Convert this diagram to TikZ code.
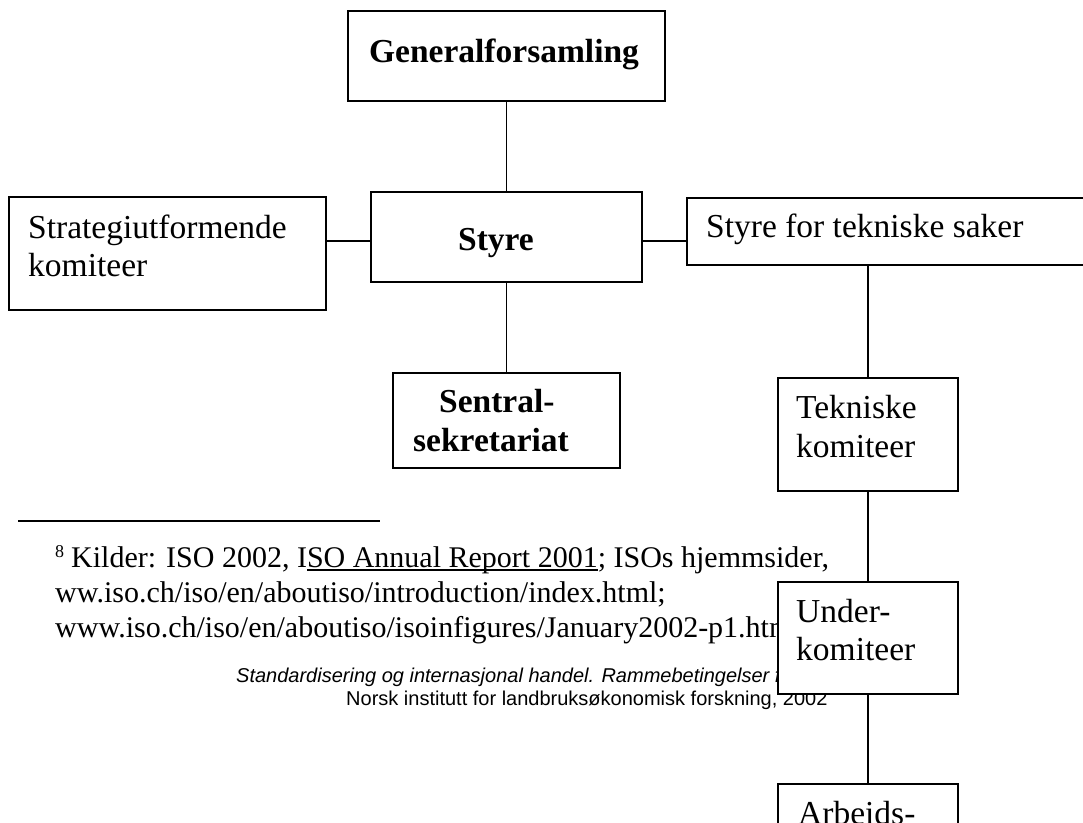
\documentclass[tikz,border=0pt]{standalone}
\usepackage{fontspec}
\setmainfont{Liberation Serif}
\newfontfamily\footerfont{Liberation Sans}
% underline drawn close below the baseline
\newcommand\tightuline[1]{\setbox0\hbox{#1}\rlap{\raisebox{-3.5pt}{\rule{\wd0}{1.6pt}}}\box0}
\begin{document}
\begin{tikzpicture}[x=1pt,y=-1pt,
  orgbox/.style={draw=black, line width=1.9pt, fill=white, inner sep=0pt, anchor=north west},
  link/.style={draw=black, line width=1.7pt},
  boxtext/.style={inner sep=0pt, anchor=base west, font=\fontsize{33.5}{39}\selectfont},
  boldtext/.style={inner sep=0pt, anchor=base, font=\fontsize{33.5}{39}\selectfont\bfseries},
  fnote/.style={inner sep=0pt, anchor=base west, font=\fontsize{30}{35}\selectfont},
  fnmark/.style={inner sep=0pt, anchor=base west, font=\fontsize{18}{20}\selectfont},
  footer/.style={inner sep=0pt, anchor=base west, font=\footerfont\fontsize{20}{23}\selectfont}]
\useasboundingbox (0,0) rectangle (1083,822);
\clip (0,0) rectangle (1083,822);

% footnote block
\coordinate (rulea) at (18,521);
\coordinate (ruleb) at (380,521);
\draw[line width=2.5pt] (rulea) -- (ruleb);
\node[fnmark] (fn8) at (55,557) {8};
\node[fnote] (fn1) at (71,567) {Kilder: ISO 2002, I\tightuline{SO Annual Report 2001}; ISOs hjemmsider,};
\node[fnote] (fn2) at (55,602) {ww.iso.ch/iso/en/aboutiso/introduction/index.html;};
\node[fnote] (fn3) at (55,637) {www.iso.ch/iso/en/aboutiso/isoinfigures/January2002-p1.htm};

% page footer
\node[footer] (ft1) at (236,682) {\itshape Standardisering og internasjonal handel. Rammebetingelser f};
\node[footer] (ft2) at (346,705) {Norsk institutt for landbruksøkonomisk forskning, 2002};

% boxes
\node[orgbox, minimum width=317pt, minimum height=90pt] (ga) at (347,10) {};
\node[orgbox, minimum width=271pt, minimum height=90pt] (styre) at (370,191) {};
\node[orgbox, minimum width=317pt, minimum height=113pt] (strat) at (8,196) {};
\node[orgbox, minimum width=420pt, minimum height=67pt] (stb) at (686,197) {};
\node[orgbox, minimum width=227pt, minimum height=95pt] (sek) at (392,372) {};
\node[orgbox, minimum width=180pt, minimum height=113pt] (tk) at (777,377) {};
\node[orgbox, minimum width=180pt, minimum height=112pt] (uk) at (777,581) {};
\node[orgbox, minimum width=180pt, minimum height=120pt] (ag) at (777,783) {};

% connectors
\coordinate (lvl) at (0,241);
\draw[link] (ga.south) -- (styre.north);
\draw[link] (styre.south) -- (sek.north);
\draw[link] (strat.east |- lvl) -- (styre.west |- lvl);
\draw[link] (styre.east |- lvl) -- (stb.west |- lvl);
\draw[link] (tk.north) -- (tk.north |- stb.south);
\draw[link] (tk.south) -- (uk.north);
\draw[link] (uk.south) -- (ag.north);

% labels
\node[boldtext] (gat) at (504,62) {Generalforsamling};
\node[boldtext] (styret) at (496,250) {Styre};
\node[boxtext] (strat1) at (28,238) {Strategiutformende};
\node[boxtext] (strat2) at (28,276) {komiteer};
\node[boxtext] (stbt) at (706,237) {Styre for tekniske saker};
\node[boxtext, font=\fontsize{33.5}{39}\selectfont\bfseries] (sek1) at (439,412) {Sentral-};
\node[boxtext, font=\fontsize{33.5}{39}\selectfont\bfseries] (sek2) at (413,451) {sekretariat};
\node[boxtext] (tk1) at (796,418) {Tekniske};
\node[boxtext] (tk2) at (796,457) {komiteer};
\node[boxtext] (uk1) at (796,622) {Under-};
\node[boxtext] (uk2) at (796,660) {komiteer};
\node[boxtext] (ag1) at (798,824) {Arbeids-};
\end{tikzpicture}
\end{document}
